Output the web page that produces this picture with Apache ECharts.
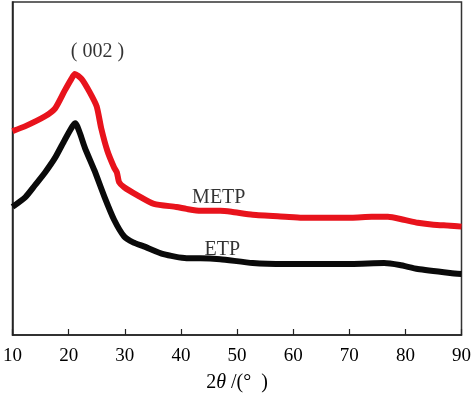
<!DOCTYPE html>
<html>
<head>
<meta charset="utf-8">
<script src="https://cdn.jsdelivr.net/npm/echarts@6/dist/echarts.min.js"></script>
<style>html,body{margin:0;padding:0;background:#fff}#c{width:474px;height:398px}</style>
</head>
<body>
<div id="c"></div>
<script>
const xTicks = [10, 20, 30, 40, 50, 60, 70, 80, 90];
const metpX = [10, 12.3, 15.8, 17.6, 19.3, 20.5, 21.1, 22.3, 23.7, 25, 25.8, 26.9, 28.1, 28.6, 29.0, 29.9, 32.2, 35.2, 39.2, 41, 43.5, 47, 49, 52.8, 58.6, 61.6, 64.6, 70.4, 74, 76.9, 79.7, 82.2, 85, 88, 90];
const metpY = [207, 212, 222, 230, 248, 260, 265, 260, 247, 232, 210, 187, 170, 165, 155, 150, 142, 133, 130, 128, 126, 126, 125, 122, 120, 119, 119, 119, 120, 120, 117, 114, 112, 111, 110];
const etpX = [10, 12.3, 14, 15.8, 17.6, 19.3, 20.7, 21.2, 22, 22.9, 24.6, 26.4, 28.1, 29.9, 31.5, 33.4, 36.9, 41, 43.5, 47, 52.8, 58.6, 64.6, 70.4, 76.2, 79, 82.2, 88, 90];
const etpY = [130, 140, 152, 165, 180, 198, 212, 215, 205, 190, 167, 140, 117, 100, 94, 90, 82, 78, 78, 77, 73, 72, 72, 72, 73, 71, 67, 63, 62];
const labels = [
  {text: '( 002 )', x: 20.4, y: 287},
  {text: 'METP', x: 42.0, y: 139},
  {text: 'ETP', x: 44.2, y: 87}
];

const pairs = (xs, ys) => xs.map((x, i) => [x, ys[i]]);
const chart = echarts.init(document.getElementById('c'));
const serif = '"Liberation Serif", "DejaVu Serif", serif';
chart.setOption({
  animation: false,
  grid: {left: 7, right: 12, top: 2, bottom: 58, show: true, borderColor: '#333', borderWidth: 1.5},
  xAxis: {
    type: 'value', min: 10, max: 90, interval: 10,
    axisLine: {show: true, lineStyle: {color: '#222', width: 1.5}},
    axisTick: {show: true, inside: true, length: 6, lineStyle: {color: '#222', width: 1.2}},
    splitLine: {show: false},
    axisLabel: {color: '#000', fontFamily: serif, fontSize: 19, margin: 12,
      formatter: v => xTicks.includes(v) ? String(v) : ''},
    name: '{a|2}{b|θ}{a| /(°  )}',
    nameLocation: 'middle', nameGap: 38,
    nameTextStyle: {rich: {
      a: {fontFamily: serif, fontSize: 20, color: '#000'},
      b: {fontFamily: serif, fontSize: 20, color: '#000', fontStyle: 'italic'}
    }}
  },
  yAxis: {
    type: 'value', min: 0, max: 338,
    axisLine: {show: true, lineStyle: {color: '#222', width: 1.5}},
    axisTick: {show: false}, axisLabel: {show: false}, splitLine: {show: false}
  },
  series: [
    {type: 'line', data: pairs(metpX, metpY), showSymbol: false, smooth: 0.2,
      lineStyle: {color: '#e8131c', width: 6}},
    {type: 'line', data: pairs(etpX, etpY), showSymbol: false, smooth: 0.2,
      lineStyle: {color: '#0a0a0a', width: 6}},
    {type: 'scatter', data: labels.map(l => [l.x, l.y, l.text]), symbolSize: 0,
      label: {show: true, position: 'right', distance: 0, formatter: p => p.data[2],
        fontFamily: serif, fontSize: 20, color: '#000'}}
  ]
});
</script>
</body>
</html>
